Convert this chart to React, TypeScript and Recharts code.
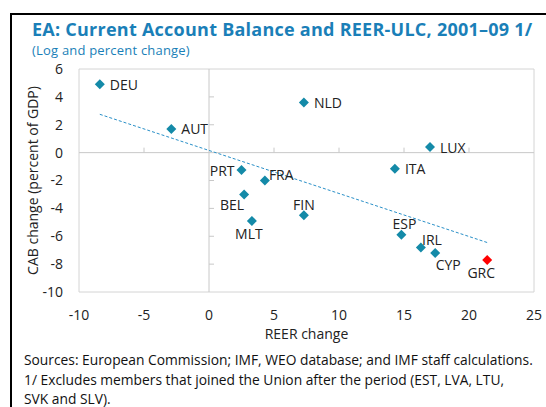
import { ScatterChart, Scatter, XAxis, YAxis, ReferenceLine, ReferenceArea, Cell } from 'recharts'

const COUNTRIES = ['DEU', 'AUT', 'NLD', 'LUX', 'ITA', 'PRT', 'FRA', 'BEL', 'MLT', 'FIN', 'ESP', 'IRL', 'CYP', 'GRC']
const REER = [-8.4, -2.9, 7.3, 17.0, 14.3, 2.5, 4.3, 2.7, 3.3, 7.3, 14.8, 16.3, 17.4, 21.4]
const CAB = [4.9, 1.7, 3.6, 0.4, -1.15, -1.25, -2.0, -3.0, -4.9, -4.5, -5.9, -6.8, -7.2, -7.7]
const HIGHLIGHT = 'GRC'

// fitted line endpoints
const TREND_X = [-8.4, 21.4]
const TREND_Y = [2.75, -6.45]

const X_TICKS = [-10, -5, 0, 5, 10, 15, 20, 25]
const Y_TICKS = [-10, -8, -6, -4, -2, 0, 2, 4, 6]

// label placement relative to each marker: [dx, dy, anchor]
const LABEL_POS: Record<string, [number, number, string]> = {
  DEU: [10, 0, 'start'],
  AUT: [10, 0, 'start'],
  NLD: [10, 0, 'start'],
  LUX: [10, 0, 'start'],
  ITA: [10, 0, 'start'],
  PRT: [-7, 0, 'end'],
  FRA: [4, -6, 'start'],
  BEL: [-12, 10, 'middle'],
  MLT: [-3, 13, 'middle'],
  FIN: [0, -11, 'middle'],
  ESP: [3, -11, 'middle'],
  IRL: [11, -8, 'middle'],
  CYP: [13, 12, 'middle'],
  GRC: [-6, 13, 'middle'],
}

const FONT = '"Open Sans", sans-serif'
const BLUE = '#1a7fb8'
const MARKER = '#148aa8'
const RED = '#ff0000'

const data = COUNTRIES.map((name, i) => ({ name, x: REER[i], y: CAB[i] }))
const trend = TREND_X.map((x, i) => ({ x, y: TREND_Y[i] }))

const xMin = X_TICKS[0]
const xMax = X_TICKS[X_TICKS.length - 1]
const yMin = Y_TICKS[0]
const yMax = Y_TICKS[Y_TICKS.length - 1]

function Diamond(props: any) {
  const { cx, cy, payload } = props
  const [dx, dy, anchor] = LABEL_POS[payload.name] || [10, 0, 'start']
  const color = payload.name === HIGHLIGHT ? RED : MARKER
  const r = 5
  return (
    <g>
      <path d={`M${cx},${cy - r}L${cx + r},${cy}L${cx},${cy + r}L${cx - r},${cy}Z`} fill={color} />
      <text
        x={cx + dx}
        y={cy + dy}
        textAnchor={anchor as any}
        dominantBaseline="central"
        fontSize={14}
        fontFamily={FONT}
        fill="#222"
      >
        {payload.name}
      </text>
    </g>
  )
}

// small tick marks sitting on the zero lines
function XZeroTick(props: any) {
  const { x1, y1, y2 } = props
  const top = Math.min(y1, y2)
  const h = Math.abs(y2 - y1)
  const yZero = top + (h * yMax) / (yMax - yMin)
  return <line x1={x1} x2={x1} y1={yZero} y2={yZero - 5} stroke="#c8c8c8" />
}

function YZeroTick(props: any) {
  const { x1, x2, y1 } = props
  const left = Math.min(x1, x2)
  const w = Math.abs(x2 - x1)
  const xZero = left + (w * (0 - xMin)) / (xMax - xMin)
  return <line x1={xZero} x2={xZero + 5} y1={y1} y2={y1} stroke="#c8c8c8" />
}

export default function App() {
  return (
    <div
      style={{
        position: 'fixed',
        left: 0,
        top: 0,
        width: 546,
        height: 407,
        overflow: 'hidden',
        background: '#fff',
        fontFamily: FONT,
      }}
    >
      <div
        style={{
          position: 'absolute',
          left: 10,
          top: 13,
          width: 560,
          height: 420,
          border: '2px solid #000',
          boxSizing: 'border-box',
        }}
      />
      <div
        style={{
          position: 'absolute',
          left: 32,
          top: 19.3,
          fontSize: 18,
          fontWeight: 700,
          letterSpacing: 0.25,
          color: BLUE,
          whiteSpace: 'nowrap',
          lineHeight: '20px',
        }}
      >
        EA: Current Account Balance and REER-ULC, 2001–09 1/
      </div>
      <div
        style={{
          position: 'absolute',
          left: 32,
          top: 43.1,
          fontSize: 13,
          letterSpacing: 0.2,
          color: BLUE,
          whiteSpace: 'nowrap',
          lineHeight: '15px',
        }}
      >
        (Log and percent change)
      </div>

      <div style={{ position: 'absolute', left: 0, top: 0 }}>
        <ScatterChart width={546} height={345} margin={{ top: 69, right: 12, bottom: 0, left: 0 }}>
          <ReferenceArea x1={xMin} x2={xMax} y1={yMin} y2={yMax} fill="none" stroke="#d4d4d4" />
          <ReferenceLine x={0} stroke="#c8c8c8" />
          <ReferenceLine y={0} stroke="#c8c8c8" />
          {X_TICKS.filter(t => t !== 0 && t !== xMin && t !== xMax).map(t => (
            <ReferenceLine key={`xt${t}`} x={t} stroke="none" shape={<XZeroTick />} />
          ))}
          {Y_TICKS.filter(t => t !== 0 && t !== yMin && t !== yMax).map(t => (
            <ReferenceLine key={`yt${t}`} y={t} stroke="none" shape={<YZeroTick />} />
          ))}
          <XAxis
            type="number"
            dataKey="x"
            domain={[xMin, xMax]}
            ticks={X_TICKS}
            height={53}
            axisLine={false}
            tickLine={false}
            tickMargin={12}
            tick={{ fontSize: 14, fill: '#222', fontFamily: FONT }}
            label={{
              content: (p: any) => {
                const vb = p.viewBox
                return (
                  <text
                    x={vb.x + vb.width / 2}
                    y={339}
                    textAnchor="middle"
                    fontSize={14}
                    fontFamily={FONT}
                    fill="#222"
                  >
                    REER change
                  </text>
                )
              },
            }}
          />
          <YAxis
            type="number"
            dataKey="y"
            domain={[yMin, yMax]}
            ticks={Y_TICKS}
            width={79}
            axisLine={false}
            tickLine={false}
            tickMargin={10}
            tick={{ fontSize: 14, fill: '#222', fontFamily: FONT }}
            label={{
              content: (p: any) => {
                const vb = p.viewBox
                const cy = vb.y + vb.height / 2
                return (
                  <text
                    x={32}
                    y={cy}
                    transform={`rotate(-90, 32, ${cy})`}
                    textAnchor="middle"
                    dominantBaseline="central"
                    fontSize={14}
                    fontFamily={FONT}
                    fill="#222"
                  >
                    CAB change (percent of GDP)
                  </text>
                )
              },
            }}
          />
          <ReferenceLine segment={trend} stroke="#2a90c8" strokeDasharray="3 2" strokeWidth={1} />
          <Scatter data={data} shape={<Diamond />} isAnimationActive={false}>
            {data.map(d => (
              <Cell key={d.name} fill={d.name === HIGHLIGHT ? RED : MARKER} />
            ))}
          </Scatter>
        </ScatterChart>
      </div>

      <div
        style={{
          position: 'absolute',
          left: 24,
          top: 350,
          fontSize: 13.8,
          lineHeight: '19.5px',
          color: '#111',
          whiteSpace: 'nowrap',
        }}
      >
        <div>Sources: European Commission; IMF, WEO database; and IMF staff calculations.</div>
        <div>1/ Excludes members that joined the Union after the period (EST, LVA, LTU,</div>
        <div>SVK and SLV).</div>
      </div>
    </div>
  )
}
